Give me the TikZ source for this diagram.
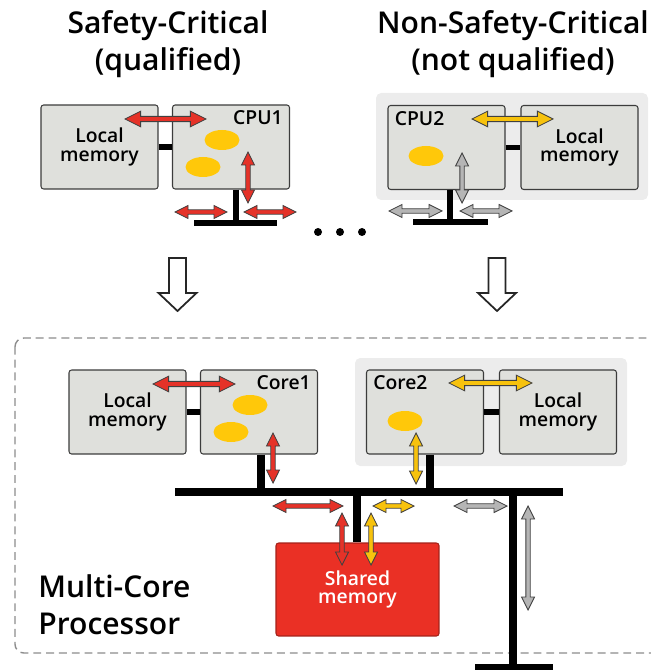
\documentclass[tikz,border=0pt]{standalone}
\usepackage{fontspec}
\IfFontExistsTF{Open Sans SemiBold}{\setmainfont{Open Sans SemiBold}}{%
  \IfFontExistsTF{Open Sans Semibold}{\setmainfont{Open Sans Semibold}}{%
    \setmainfont{Open Sans}[FakeBold=0.9, AutoFakeBold=0.9]}}
\usepackage{tikz}

\definecolor{boxfill}{HTML}{DFE0DC}
\definecolor{boxline}{HTML}{3C3C3C}
\definecolor{groupbg}{HTML}{ECECEC}
\definecolor{flowred}{HTML}{E53228}
\definecolor{flowyellow}{HTML}{F7C20D}
\definecolor{flowgrey}{HTML}{B5B5B5}
\definecolor{spotyellow}{HTML}{FFC80A}
\definecolor{sharedred}{HTML}{EA3025}

\tikzset{
  unit/.style={draw=boxline, fill=boxfill, line width=0.6pt, rounded corners=1.5pt,
    minimum width=2.34cm, minimum height=1.68cm, inner sep=0pt, align=center,
    font=\fontsize{11}{10.5}\selectfont},
  tag/.style={inner sep=0pt, font=\fontsize{11}{12}\selectfont},
  title/.style={align=center, inner sep=0pt, font=\fontsize{17.1}{21}\selectfont},
  group/.style={fill=groupbg, rounded corners=3pt},
  bus/.style={line width=4pt},
  link/.style={line width=3.4pt},
  spot/.style={fill=spotyellow},
  frame/.style={draw=black!45, line width=0.8pt, dash pattern=on 4.5pt off 2.8pt, rounded corners=5pt},
  % fat outlined two-headed arrow: colour, length, head scale
  pics/flow/.style n args={3}{code={
    \draw[fill=#1, draw=black!75, line width=0.5pt, line join=miter]
      (0,0) -- (13*#3,6.5*#3) -- (13*#3,2.2*#3) -- (#2-13*#3,2.2*#3)
      -- (#2-13*#3,6.5*#3) -- (#2,0) -- (#2-13*#3,-6.5*#3)
      -- (#2-13*#3,-2.2*#3) -- (13*#3,-2.2*#3) -- (13*#3,-6.5*#3) -- cycle;
  }},
  % hollow block arrow pointing down
  pics/sink/.style={code={
    \draw[fill=white, draw=black!85, line width=1pt, line join=miter]
      (-8.5,0) -- (8.5,0) -- (8.5,35) -- (19,35) -- (0,53) -- (-19,35) -- (-8.5,35) -- cycle;
  }},
}

\begin{document}
\begin{tikzpicture}[x=0.02cm, y=-0.02cm]
\useasboundingbox (0,0) rectangle (650,671);

% headings
\node[title] (safe) at (168,44) {Safety-Critical\\(qualified)};
\node[title] (unsafe) at (513,44) {Non-Safety-Critical\\(not qualified)};

% ---- separate computers ----
\fill[group] (376,93) rectangle (648,200);

\node[unit] (mem1) at (99.5,147) {Local\\memory};
\node[unit] (cpu1) at (231,147) {};
\node[tag, anchor=north east] (cpu1tag) at ([shift={(-7,6)}]cpu1.north east) {CPU1};
\node[unit] (cpu2) at (446.5,147.5) {};
\node[tag, anchor=north west] (cpu2tag) at ([shift={(7,6)}]cpu2.north west) {CPU2};
\node[unit] (mem2) at (579.5,147.5) {Local\\memory};

\draw[link] (mem1) -- (cpu1);
\draw[link] (cpu2) -- (mem2);

\coordinate (tap1) at (236,223);
\coordinate (tap2) at (450,222);
\draw[link] (tap1 |- cpu1.south) -- (tap1);
\draw[link] (194,223) -- (277,223);
\draw[link] (tap2 |- cpu2.south) -- (tap2);
\draw[link] (413,222) -- (488,222);

\fill[spot] (222,140) ellipse [x radius=0.35cm, y radius=0.2cm];
\fill[spot] (203,167) ellipse [x radius=0.35cm, y radius=0.2cm];
\fill[spot] (426,156) ellipse [x radius=0.35cm, y radius=0.2cm];

\pic at (125,119) {flow={flowred}{81}{1.2}};
\pic[rotate=-90] at (248,152) {flow={flowred}{51}{1}};
\pic at (175,212) {flow={flowred}{52}{1}};
\pic at (244,212) {flow={flowred}{52}{1}};

\pic at (472,119) {flow={flowyellow}{81}{1.2}};
\pic[rotate=-90] at (462,153) {flow={flowgrey}{50}{1}};
\pic at (389,211) {flow={flowgrey}{53}{1}};
\pic at (460,211) {flow={flowgrey}{52}{1}};

\foreach \x in {318,340,362}
  \fill (\x,232) circle [radius=0.08cm];

\pic at (177.5,258) {sink};
\pic at (497,258) {sink};

% ---- multi-core processor ----
\draw[frame] (15,338) rectangle (680,653);
\fill[group] (355,358) rectangle (627,466);

\node[unit] (lmemA) at (127.5,412) {Local\\memory};
\node[unit] (core1) at (259,412) {};
\node[tag, anchor=north east] (core1tag) at ([shift={(-7,6)}]core1.north east) {Core1};
\node[unit] (core2) at (425,412) {};
\node[tag, anchor=north west] (core2tag) at ([shift={(7,6)}]core2.north west) {Core2};
\node[unit] (lmemB) at (558,412) {Local\\memory};
\node[unit, minimum width=3.26cm, minimum height=1.86cm, fill=sharedred, draw=sharedred!70!black,
  text=white] (shared) at (357.5,589.5) {Shared\\memory};

\draw[link] (lmemA) -- (core1);
\draw[link] (core2) -- (lmemB);

\coordinate (busL) at (175,492);
\coordinate (busR) at (563,492);
\coordinate (ext) at (513,492);
\coordinate (extend) at (513,667);
\draw[bus] (busL) -- (busR);
\draw[bus] (core1.south -| 261,0) -- (261,492);
\draw[bus] (core2.south -| 430,0) -- (430,492);
\draw[bus] (357,492) -- (shared.north -| 357,0);
\draw[bus] (ext) -- (extend);
\draw[link] (475,667) -- (553,667);

\fill[spot] (250,405) ellipse [x radius=0.35cm, y radius=0.2cm];
\fill[spot] (231,432) ellipse [x radius=0.35cm, y radius=0.2cm];
\fill[spot] (405,421) ellipse [x radius=0.35cm, y radius=0.2cm];

\pic at (153,384) {flow={flowred}{82}{1.2}};
\pic[rotate=-90] at (273,433) {flow={flowred}{50}{1}};
\pic at (449,383) {flow={flowyellow}{83}{1.2}};
\pic[rotate=-90] at (416,433) {flow={flowyellow}{51}{1}};

\pic at (273,506) {flow={flowred}{70}{1}};
\pic at (373,506) {flow={flowyellow}{41}{1}};
\pic at (454,506) {flow={flowgrey}{53}{1}};
\pic[rotate=-90] at (342,513) {flow={flowred}{52}{1}};
\pic[rotate=-90] at (371,513) {flow={flowyellow}{52}{1}};
\pic[rotate=-90] at (528,506) {flow={flowgrey}{104}{1}};

\node[title, align=left, anchor=west] (mcp) at (38,605) {Multi-Core\\Processor};
\end{tikzpicture}
\end{document}
